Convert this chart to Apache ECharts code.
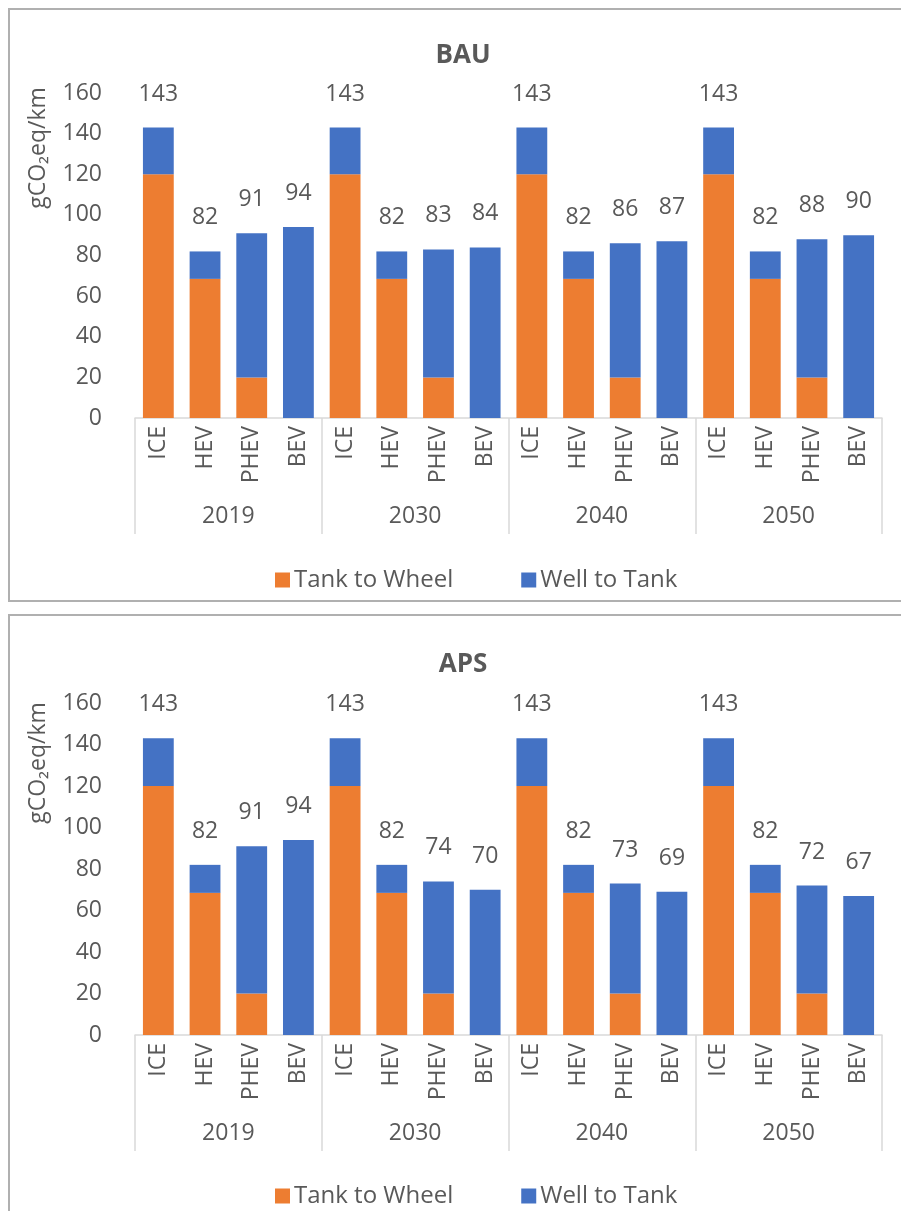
<!DOCTYPE html>
<html>
<head>
<meta charset="utf-8">
<script src="https://cdn.jsdelivr.net/npm/echarts@6/dist/echarts.min.js"></script>
<style>
  html, body { margin: 0; padding: 0; background: #fff; }
  #chart { width: 901px; height: 1211px; }
</style>
</head>
<body>
<div id="chart"></div>
<script>
// Vehicle types repeated for each year, and the year groups
const vehicles = ['ICE', 'HEV', 'PHEV', 'BEV'];
const years = ['2019', '2030', '2040', '2050'];
const yTicks = [0, 20, 40, 60, 80, 100, 120, 140, 160];

// BAU scenario (gCO2eq/km), ordered year by year: ICE, HEV, PHEV, BEV
const bauTankToWheel = [120, 68.5, 20, 0,  120, 68.5, 20, 0,  120, 68.5, 20, 0,  120, 68.5, 20, 0];
const bauWellToTank  = [23, 13.5, 71, 94,  23, 13.5, 63, 84,  23, 13.5, 66, 87,  23, 13.5, 68, 90];

// APS scenario (gCO2eq/km)
const apsTankToWheel = [120, 68.5, 20, 0,  120, 68.5, 20, 0,  120, 68.5, 20, 0,  120, 68.5, 20, 0];
const apsWellToTank  = [23, 13.5, 71, 94,  23, 13.5, 54, 70,  23, 13.5, 53, 69,  23, 13.5, 52, 67];

const ORANGE = '#ED7D31';
const BLUE = '#4472C4';
const TEXT = '#595959';
const LINE = '#d9d9d9';
const FONT = '"Open Sans", "Noto Sans", sans-serif';
const FS = 23;

const categories = [];
years.forEach(() => vehicles.forEach(v => categories.push(v)));

function totals(a, b) { return a.map((v, i) => Math.round(v + b[i])); }

// Vertical placement of the two panels
const panels = [
  { title: 'BAU', ttw: bauTankToWheel, wtt: bauWellToTank, top: 93, bottom: 418, titleTop: 38, legendTop: 563, nameY: 148 },
  { title: 'APS', ttw: apsTankToWheel, wtt: apsWellToTank, top: 703, bottom: 1035, titleTop: 647, legendTop: 1179, nameY: 763 }
];

const option = {
  animation: false,
  backgroundColor: '#fff',
  textStyle: { fontFamily: FONT, color: TEXT },
  title: [],
  legend: [],
  grid: [],
  xAxis: [],
  yAxis: [],
  series: [],
  graphic: []
};

panels.forEach((p, gi) => {
  option.title.push({
    text: p.title, left: 458, top: p.titleTop, textAlign: 'center',
    textStyle: { fontFamily: FONT, fontSize: 26, fontWeight: 'bold', color: TEXT }
  });
  option.legend.push({
    data: ['Tank to Wheel', 'Well to Tank'],
    left: 270, top: p.legendTop, itemWidth: 15, itemHeight: 15, itemGap: 68,
    icon: 'rect',
    textStyle: { fontFamily: FONT, fontSize: 24, color: TEXT, padding: [0, 0, 0, -1] },
    selectedMode: false
  });
  option.grid.push({ left: 135, right: 19, top: p.top, height: p.bottom - p.top });

  // vehicle level
  option.xAxis.push({
    type: 'category', gridIndex: gi, data: categories, position: 'bottom',
    axisLine: { show: true, lineStyle: { color: LINE, width: 1.5 } },
    axisTick: { show: false },
    axisLabel: { rotate: 90, margin: 8, interval: 0, fontFamily: FONT, fontSize: FS, color: TEXT }
  });
  // year level with group separators
  option.xAxis.push({
    type: 'category', gridIndex: gi, data: years, position: 'bottom',
    axisLine: { show: false },
    axisTick: { show: true, length: 116, interval: 0, lineStyle: { color: LINE, width: 1.5 } },
    axisLabel: { margin: 87, interval: 0, fontFamily: FONT, fontSize: FS, color: TEXT }
  });
  option.yAxis.push({
    type: 'value', gridIndex: gi, min: yTicks[0], max: yTicks[yTicks.length - 1], interval: 20,
    axisLine: { show: false }, axisTick: { show: false }, splitLine: { show: false },
    axisLabel: { margin: 33, fontFamily: FONT, fontSize: FS, color: TEXT }
  });

  const tot = totals(p.ttw, p.wtt);
  option.series.push({
    name: 'Tank to Wheel', type: 'bar', stack: 's' + gi,
    xAxisIndex: gi * 2, yAxisIndex: gi, barWidth: '66%',
    itemStyle: { color: ORANGE }, data: p.ttw
  });
  option.series.push({
    name: 'Well to Tank', type: 'bar', stack: 's' + gi,
    xAxisIndex: gi * 2, yAxisIndex: gi, barWidth: '66%',
    itemStyle: { color: BLUE }, data: p.wtt,
    label: {
      show: true, position: 'top', distance: 22,
      fontFamily: FONT, fontSize: FS, color: TEXT,
      formatter: (d) => String(tot[d.dataIndex])
    }
  });

  // y axis title
  option.graphic.push({
    type: 'text', x: 38, y: p.nameY, rotation: Math.PI / 2,
    style: { text: 'gCO₂eq/km', fontFamily: FONT, fontSize: FS, fill: TEXT, textAlign: 'center', textVerticalAlign: 'middle' }
  });
});

// panel frames
option.graphic.push({ type: 'rect', shape: { x: 9, y: 9, width: 900, height: 592 }, style: { fill: 'none', stroke: '#b0b0b0', lineWidth: 2 }, z: -1 });
option.graphic.push({ type: 'rect', shape: { x: 9, y: 615, width: 900, height: 610 }, style: { fill: 'none', stroke: '#b0b0b0', lineWidth: 2 }, z: -1 });

const chart = echarts.init(document.getElementById('chart'));
chart.setOption(option);
</script>
</body>
</html>
